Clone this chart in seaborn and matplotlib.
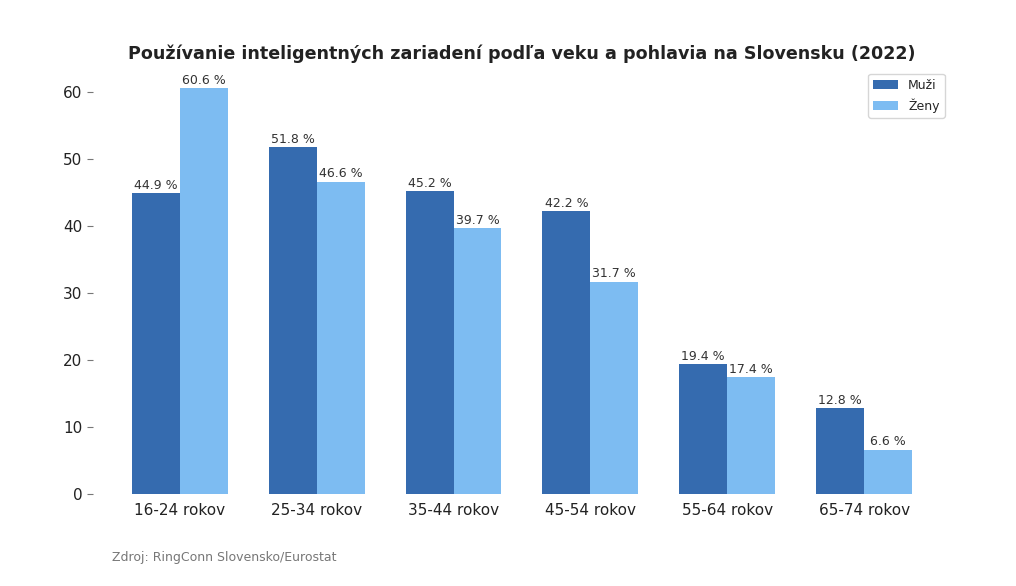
import matplotlib
matplotlib.use("Agg")
import matplotlib.pyplot as plt
import seaborn as sns
import pandas as pd

categories = ["16-24 rokov", "25-34 rokov", "35-44 rokov", "45-54 rokov", "55-64 rokov", "65-74 rokov"]
muzi = [44.9, 51.8, 45.2, 42.2, 19.4, 12.8]
zeny = [60.6, 46.6, 39.7, 31.7, 17.4, 6.6]
series = ["Muži", "Ženy"]
colors = ["#356BAF", "#7DBCF2"]

df = pd.DataFrame({
    "vek": categories * 2,
    "hodnota": muzi + zeny,
    "pohlavie": [series[0]] * len(categories) + [series[1]] * len(categories),
})

sns.set_style("white")
plt.rcParams['font.family'] = ['DejaVu Sans']

fig = plt.figure(figsize=(10.16, 5.86), dpi=100)
ax = fig.add_axes([0.0915, 0.157, 0.8445, 0.7275])

sns.barplot(data=df, x="vek", y="hodnota", hue="pohlavie", palette=colors,
            width=0.7, ax=ax, saturation=1, errorbar=None, linewidth=0)

for cont in ax.containers:
    ax.bar_label(cont, fmt="{:.1f} %", fontsize=9, color="#333333", padding=1)

ax.set_xlim(-0.635, 5.635)
ax.set_ylim(0, 63.63)
ax.set_xlabel("")
ax.set_ylabel("")
for s in ax.spines.values():
    s.set_visible(False)
ax.tick_params(axis="y", left=True, length=4, width=0.8, color="#777777", labelsize=11, labelcolor="#222222")
ax.tick_params(axis="x", bottom=False, labelsize=11, labelcolor="#222222", pad=3)
ax.set_yticks([0, 10, 20, 30, 40, 50, 60])

leg = ax.legend(loc="upper right", fontsize=9, frameon=True, title=None)
leg.get_frame().set_edgecolor("#cccccc")

ax.set_title("Používanie inteligentných zariadení podľa veku a pohlavia na Slovensku (2022)",
             fontsize=12.6, fontweight="bold", color="#222222", pad=6.5)
fig.text(0.11, 0.043, "Zdroj: RingConn Slovensko/Eurostat", fontsize=9, color="#777777")

fig.savefig("out.png", dpi=100, facecolor="white")
